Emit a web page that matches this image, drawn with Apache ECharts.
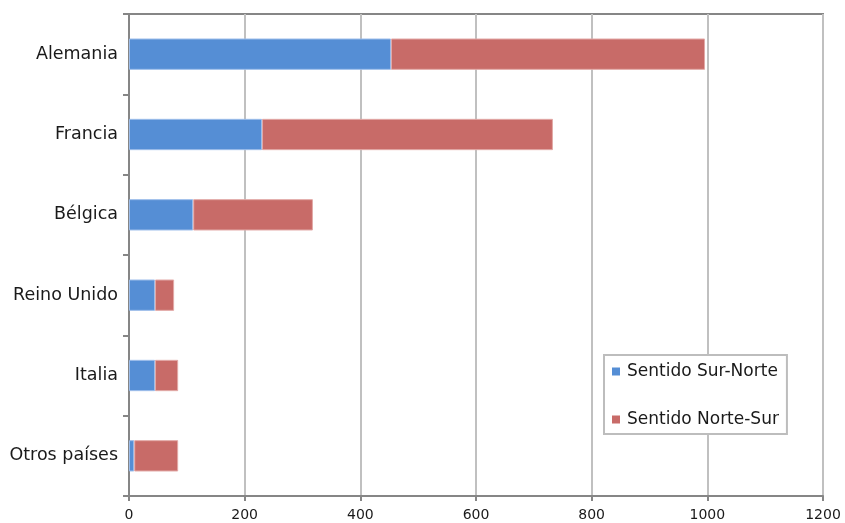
<!DOCTYPE html>
<html>
<head>
<meta charset="utf-8">
<script src="https://cdn.jsdelivr.net/npm/echarts@6/dist/echarts.min.js"></script>
<style>
  html, body { margin: 0; padding: 0; background: #fff; }
  #chart { width: 845px; height: 523px; }
</style>
</head>
<body>
<div id="chart"></div>
<script>
// Países de destino (de arriba a abajo)
const countries = ['Alemania', 'Francia', 'Bélgica', 'Reino Unido', 'Italia', 'Otros países'];
// Valores por sentido
const surNorte = [453, 230, 111, 45, 45, 9];
const norteSur = [543, 503, 207, 33, 40, 76];
// Eje de valores
const xTicks = [0, 200, 400, 600, 800, 1000, 1200];

const FONT = '"DejaVu Sans", sans-serif';
const AXIS = '#868686';
const GRID = '#c0c0c0';

const chart = echarts.init(document.getElementById('chart'), null, { renderer: 'canvas' });

chart.setOption({
  animation: false,
  backgroundColor: '#ffffff',
  grid: {
    left: 129, right: 22, top: 14, bottom: 27,
    show: true, borderColor: AXIS, borderWidth: 2, backgroundColor: 'transparent'
  },
  legend: {
    orient: 'vertical',
    left: 604, top: 355,
    padding: [8, 8, 6, 8],
    itemGap: 31,
    itemWidth: 8, itemHeight: 8,
    icon: 'rect',
    itemStyle: { borderWidth: 0 },
    borderColor: '#bdbdbd', borderWidth: 2,
    backgroundColor: '#fff',
    textStyle: { fontFamily: FONT, fontSize: 17, color: '#1a1a1a', padding: [0, 0, 0, 2] },
    data: ['Sentido Sur-Norte', 'Sentido Norte-Sur']
  },
  xAxis: {
    type: 'value',
    min: xTicks[0], max: xTicks[xTicks.length - 1], interval: 200,
    axisLine: { show: true, lineStyle: { color: AXIS, width: 2 } },
    axisTick: { show: true, length: 5, lineStyle: { color: AXIS, width: 2 } },
    axisLabel: { fontFamily: FONT, fontSize: 14, color: '#1a1a1a', margin: 12, formatter: v => String(v) },
    splitLine: { show: true, lineStyle: { color: GRID, width: 2 } }
  },
  yAxis: {
    type: 'category',
    inverse: true,
    data: countries,
    axisLine: { show: true, lineStyle: { color: AXIS, width: 2 } },
    axisTick: { show: true, alignWithLabel: false, length: 6, lineStyle: { color: AXIS, width: 2 } },
    axisLabel: { fontFamily: FONT, fontSize: 17.5, color: '#1a1a1a', margin: 11 },
    splitLine: { show: false }
  },
  series: [
    {
      name: 'Sentido Sur-Norte',
      type: 'bar',
      stack: 'total',
      barWidth: '39%',
      data: surNorte,
      itemStyle: { color: '#558ed5', borderColor: '#9dbdea', borderWidth: 1 }
    },
    {
      name: 'Sentido Norte-Sur',
      type: 'bar',
      stack: 'total',
      barWidth: '39%',
      data: norteSur,
      itemStyle: { color: '#c86b68', borderColor: '#e2a9a7', borderWidth: 1 }
    }
  ]
});
</script>
</body>
</html>
